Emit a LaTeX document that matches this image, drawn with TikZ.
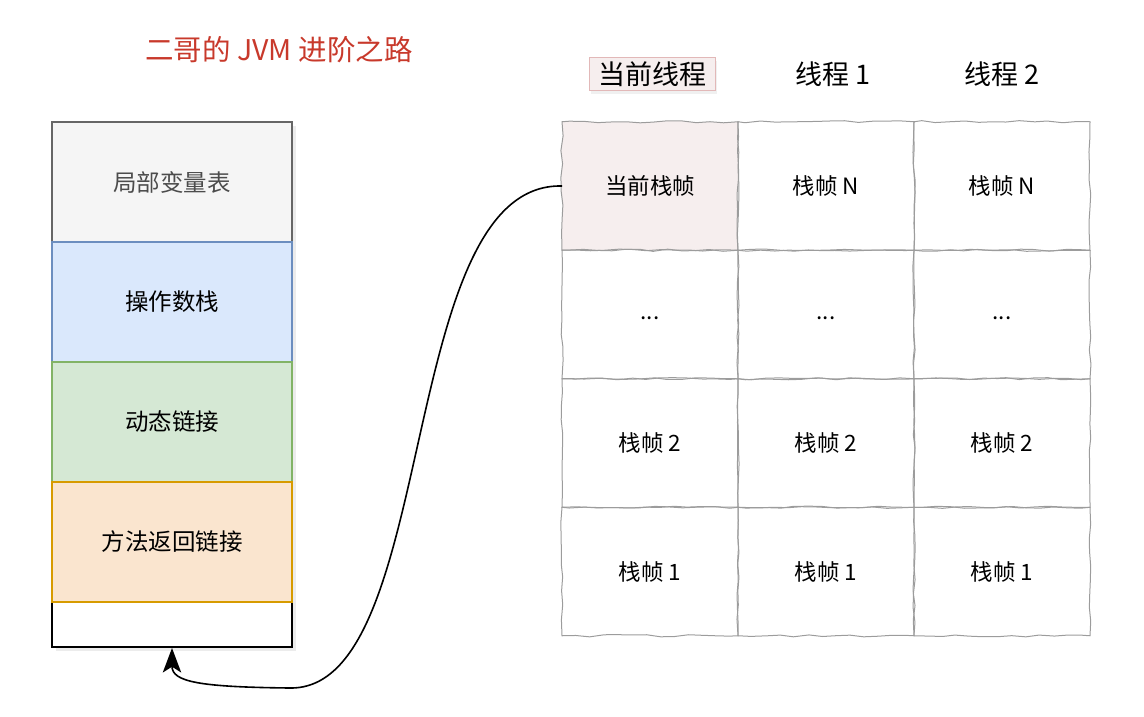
\documentclass[tikz,border=0pt]{standalone}
\usepackage{fontspec}
\newfontfamily\cjk{Noto Sans CJK SC}
\usetikzlibrary{positioning,shadows,arrows.meta,decorations.pathmorphing}
\definecolor{titlered}{HTML}{C8392B}
\definecolor{grayfill}{HTML}{F5F5F5}
\definecolor{grayline}{HTML}{666666}
\definecolor{bluefill}{HTML}{DAE8FC}
\definecolor{blueline}{HTML}{6C8EBF}
\definecolor{greenfill}{HTML}{D5E8D4}
\definecolor{greenline}{HTML}{82B366}
\definecolor{orangefill}{HTML}{FAE5CF}
\definecolor{orangeline}{HTML}{D79B00}
\definecolor{sketch}{HTML}{9C9C9C}
\definecolor{curfill}{HTML}{F6EEEE}
\definecolor{curline}{HTML}{E2B8B8}

\begin{document}
\pgfmathsetseed{7}
\begin{tikzpicture}[x=1pt, y=1pt, font=\cjk,
  slot/.style={draw, line width=1.2pt, minimum width=240pt, minimum height=120pt,
               inner sep=0pt, outer sep=0pt, font=\cjk\fontsize{23.5}{28}\selectfont},
  cell/.style={draw=sketch, line width=1pt, minimum width=176pt, minimum height=128.5pt,
               inner sep=0pt, outer sep=0pt, font=\cjk\fontsize{22.5}{27}\selectfont,
               decorate, decoration={random steps, segment length=14pt, amplitude=1.1pt}},
  head/.style={font=\cjk\fontsize{27}{32}\selectfont},
  link/.style={line width=1.6pt, arrows={-Stealth[scale=2.4, inset=2.4pt]}}]

\useasboundingbox (0,0) rectangle (1144,-716);

\node[titlered, font=\cjk\fontsize{28.5}{33}\selectfont] (title) at (279,-50) {二哥的 JVM 进阶之路};

% stack frame
\node[draw, line width=2pt, fill=white, minimum width=240pt, minimum height=525pt,
      drop shadow={opacity=0.15, shadow xshift=4pt, shadow yshift=-4pt}] (frame) at (172,-384.5) {};
\node[slot, fill=grayfill, draw=grayline, text=black!70] (locals) at (172,-182) {局部变量表};
\node[slot, fill=bluefill, draw=blueline, below=0pt of locals] (opstack) {操作数栈};
\node[slot, fill=greenfill, draw=greenline, below=0pt of opstack] (dynlink) {动态链接};
\node[slot, fill=orangefill, draw=orangeline, below=0pt of dynlink] (retaddr) {方法返回链接};

% threads
\node[cell, fill=curfill] (cur) at (650,-186) {当前栈帧};
\node[cell, right=0pt of cur] (t1n) {栈帧 N};
\node[cell, right=0pt of t1n] (t2n) {栈帧 N};
\node[cell, below=0pt of cur] (curdots) {\raisebox{-5pt}[0pt][0pt]{...}};
\node[cell, below=0pt of t1n] (t1dots) {\raisebox{-5pt}[0pt][0pt]{...}};
\node[cell, below=0pt of t2n] (t2dots) {\raisebox{-5pt}[0pt][0pt]{...}};
\node[cell, below=0pt of curdots] (curtwo) {栈帧 2};
\node[cell, below=0pt of t1dots] (t1two) {栈帧 2};
\node[cell, below=0pt of t2dots] (t2two) {栈帧 2};
\node[cell, below=0pt of curtwo] (curone) {栈帧 1};
\node[cell, below=0pt of t1two] (t1one) {栈帧 1};
\node[cell, below=0pt of t2two] (t2one) {栈帧 1};

\node[head, draw=curline, fill=curfill, line width=1pt, inner xsep=9pt, inner ysep=4pt,
      drop shadow={opacity=0.12, shadow xshift=2pt, shadow yshift=-3pt}] (curthread) at (652,-74) {当前线程};
\node[head] (thread1) at (833,-74) {线程 1};
\node[head] (thread2) at (1002,-74) {线程 2};

\draw[link] (cur.west) .. controls (395,-182) and (440,-690) .. (290,-688)
            .. controls (200,-687) and (172,-682) .. (frame.south);
\end{tikzpicture}
\end{document}
